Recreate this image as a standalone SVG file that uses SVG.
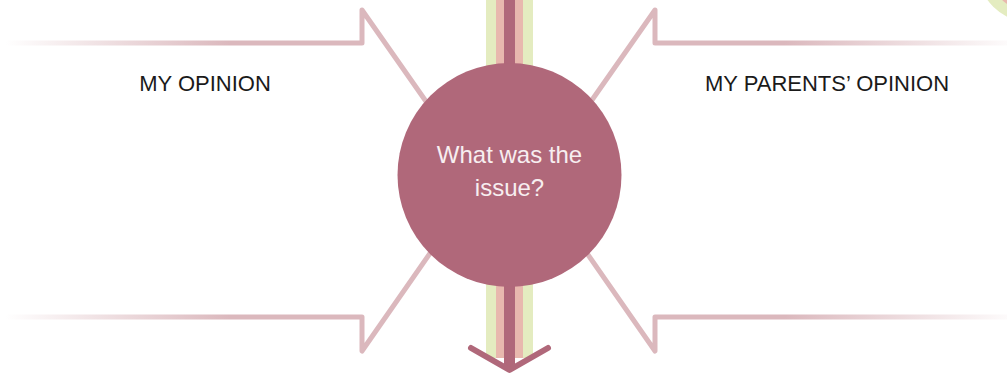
<svg xmlns="http://www.w3.org/2000/svg" width="1007" height="374" viewBox="0 0 1007 374">
  <defs>
    <linearGradient id="fadeL" gradientUnits="userSpaceOnUse" x1="5" y1="0" x2="230" y2="0">
      <stop offset="0" stop-color="#dbb8bd" stop-opacity="0"/>
      <stop offset="1" stop-color="#dbb8bd" stop-opacity="1"/>
    </linearGradient>
    <linearGradient id="fadeR" gradientUnits="userSpaceOnUse" x1="1010" y1="0" x2="785" y2="0">
      <stop offset="0" stop-color="#dbb8bd" stop-opacity="0.05"/>
      <stop offset="1" stop-color="#dbb8bd" stop-opacity="1"/>
    </linearGradient>
    <style>
      .outline { fill: none; stroke-width: 5; stroke-linejoin: round; stroke-linecap: round; }
      .label { font-family: "Liberation Sans", Arial, sans-serif; font-size: 22px; fill: #1a1a1a; text-anchor: middle; }
      .ctext { font-family: "Liberation Sans", Arial, sans-serif; font-size: 24px; fill: #f7eef0; text-anchor: middle; }
    </style>
  </defs>

  <rect x="0" y="0" width="1007" height="374" fill="#ffffff"/>

  <g id="corner-deco">
    <circle cx="1030" cy="-30" r="52" fill="#e4ecc0"/>
    <circle cx="1030" cy="-30" r="41" fill="#e8b8ae"/>
  </g>

  <g id="left-arrow">
    <path class="outline" stroke="url(#fadeL)" d="M5,43 L362,43 L362,10 L481,180 L362,351 L362,317 L5,317"/>
    <text class="label" x="205" y="90.5">MY OPINION</text>
  </g>

  <g id="right-arrow">
    <path class="outline" stroke="url(#fadeR)" d="M1010,43 L655,43 L655,10 L536,180 L655,351 L655,317 L1010,317"/>
    <text class="label" x="827" y="90.5">MY PARENTS’ OPINION</text>
  </g>

  <g id="connectors">
    <rect x="486" y="0" width="47" height="358" fill="#e4ecc0"/>
    <rect x="496" y="0" width="27" height="358" fill="#e8b8ae"/>
    <path d="M504,0 H515 V364 L509.5,368 L504,364 Z" fill="#b0687a"/>
    <polyline points="471,348 509.5,370 548,348" fill="none" stroke="#b0687a" stroke-width="6" stroke-linecap="round" stroke-linejoin="round"/>
  </g>

  <g id="issue">
    <circle cx="509.5" cy="175" r="112" fill="#b0687a"/>
    <text class="ctext" x="509.5" y="163">What was the</text>
    <text class="ctext" x="509.5" y="195.5">issue?</text>
  </g>
</svg>
